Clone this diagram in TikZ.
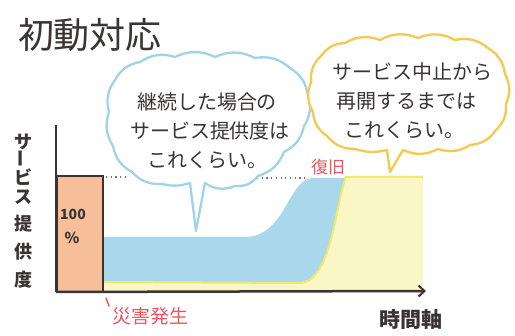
\documentclass[tikz,border=0pt]{standalone}
\usepackage{fontspec}
\newfontfamily\jp{Noto Sans CJK JP}
\usetikzlibrary{arrows.meta}
\definecolor{inkc}{HTML}{3A3434}
\definecolor{barfill}{HTML}{F6BE99}
\definecolor{areablue}{HTML}{A9D8EC}
\definecolor{areayellow}{HTML}{FBF6C6}
\definecolor{edgeyellow}{HTML}{F0EA68}
\definecolor{cloudblue}{HTML}{9FD3EA}
\definecolor{cloudyellow}{HTML}{F4C94E}
\definecolor{redtext}{HTML}{E85560}
\tikzset{
  bubbletext/.style={font=\jp\fontsize{20}{29}\selectfont, text=inkc, inner sep=0pt},
  axischar/.style={font=\jp\bfseries\fontsize{18}{18}\selectfont, text=inkc, inner sep=0pt},
  redlabel/.style={font=\jp\fontsize{17}{17}\selectfont, text=redtext, inner sep=0pt},
  axisline/.style={draw=inkc, line width=2.5pt},
  dotline/.style={draw=inkc!70, line width=1.2pt, dash pattern=on 1.2pt off 3.5pt},
  cloudline/.style={line width=2.3pt, fill=white, line join=round},
}
\begin{document}
\begin{tikzpicture}[x=1pt,y=-1pt]
\useasboundingbox[fill=white] (0,0) rectangle (515,336);

% title
\node[font=\jp\fontsize{36}{36}\selectfont, text=inkc, inner sep=0pt] (title) at (90,35) {初動対応};

% y axis label
\node[axischar] (c1) at (23,142) {サ};
\node[axischar, rotate=90] (c2) at (23,159) {ー};
\node[axischar] (c3) at (23,177) {ビ};
\node[axischar] (c4) at (23,197) {ス};
\node[axischar] (c5) at (23,224) {提};
\node[axischar] (c6) at (23,252) {供};
\node[axischar] (c7) at (23,280) {度};

% areas
\fill[areablue] (103,237) -- (245,237) .. controls (285,237) and (288,180) .. (312,178)
   -- (346,178) .. controls (336,200) and (332,282) .. (300,282) -- (103,282) -- cycle;
\fill[areayellow] (103,291) -- (103,282) -- (300,283) .. controls (332,282) and (336,200) .. (346,177)
   -- (423,177) -- (423,291) -- cycle;
\draw[edgeyellow, line width=2pt] (103,282) -- (300,283) .. controls (332,282) and (336,200) .. (346,177) -- (423,177);

% bar
\node[draw=inkc, fill=barfill, line width=2pt, minimum width=46pt, minimum height=116pt, inner sep=0pt] (bar) at (80,234) {};
\node[font=\jp\bfseries\fontsize{14}{14}\selectfont, text=inkc, inner sep=0pt] (hundred) at (73,214) {100};
\node[font=\jp\bfseries\fontsize{15}{15}\selectfont, text=inkc, inner sep=0pt] (pct) at (72,238) {\%};

% axes
\coordinate (origin) at (56,292);
\coordinate (ytop) at (56,125);
\coordinate (xend) at (426,291);
\draw[axisline] (ytop) -- (origin);
\draw[axisline, -{Straight Barb[length=6pt,width=11pt,line width=2pt]}] (origin) -- (xend);

% dotted guide lines
\coordinate (d1a) at (106,177);
\coordinate (d1b) at (126,177);
\coordinate (d2a) at (257,178);
\coordinate (d2b) at (306,178);
\draw[dotline] (d1a) -- (d1b);
\draw[dotline] (d2a) -- (d2b);

% blue cloud
\draw[cloudline, draw=cloudblue] (205,183) to[bend right=28] (235,186) to[bend right=28] (258,176)
  to[bend right=25] (284,152) to[bend right=25] (304,126) to[bend right=25] (308,96)
  to[bend right=25] (290,68) to[bend right=25] (255,58) to[bend right=25] (215,57)
  to[bend right=25] (175,57) to[bend right=25] (140,62) to[bend right=25] (115,80)
  to[bend right=25] (109,112) to[bend right=25] (113,146) to[bend right=25] (132,172)
  to[bend right=25] (162,184) to[bend right=15] (190,183) -- (196,231) -- cycle;

% yellow cloud
\draw[cloudline, draw=cloudyellow] (403,150) to[bend right=25] (438,149) to[bend right=25] (470,145)
  to[bend right=25] (496,130) to[bend right=25] (506,104) to[bend right=25] (505,74)
  to[bend right=25] (488,48) to[bend right=25] (455,40) to[bend right=25] (418,38)
  to[bend right=25] (380,40) to[bend right=25] (345,43) to[bend right=25] (321,56)
  to[bend right=25] (311,82) to[bend right=25] (313,112) to[bend right=25] (327,136)
  to[bend right=25] (355,149) to[bend right=15] (387,150) -- (390,172) -- cycle;

% bubble texts
\node[bubbletext] (b1) at (207,102) {継続した場合の};
\node[bubbletext] (b2) at (210,131) {サービス提供度は};
\node[bubbletext] (b3) at (207,160) {これくらい。};
\node[bubbletext] (y1) at (412,72) {サービス中止から};
\node[bubbletext] (y2) at (406,101) {再開するまでは};
\node[bubbletext] (y3) at (404,130) {これくらい。};

% red labels
\node[redlabel] (fukkyu) at (328,167) {復旧};
\node[redlabel, font=\jp\fontsize{19}{19}\selectfont] (saigai) at (150,316) {災害発生};
\coordinate (tk1) at (106,298);
\coordinate (tk2) at (109,306);
\draw[redtext, line width=1.5pt, line cap=round] (tk1) -- (tk2);

% x axis label
\node[font=\jp\bfseries\fontsize{21}{21}\selectfont, text=inkc, inner sep=0pt] (jikan) at (411,320) {時間軸};
\end{tikzpicture}
\end{document}
